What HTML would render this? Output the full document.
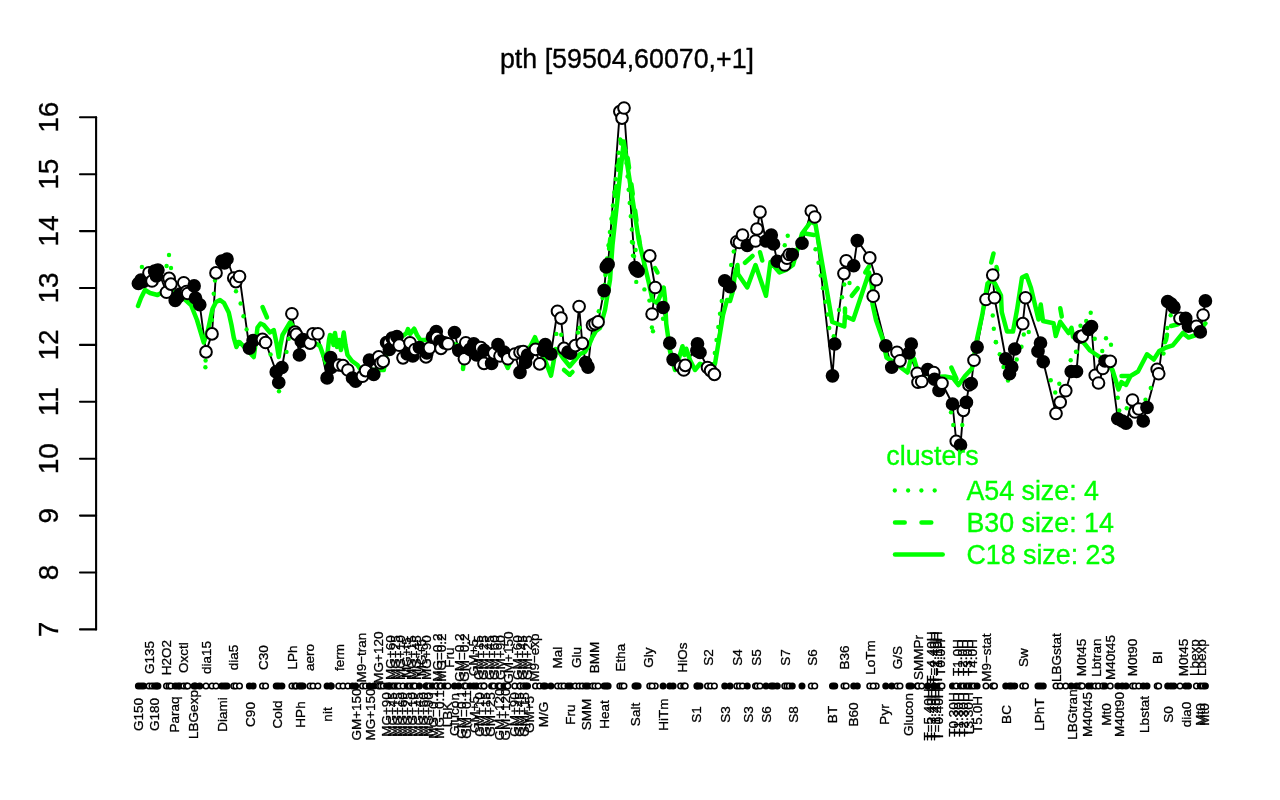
<!DOCTYPE html>
<html><head><meta charset="utf-8"><title>pth</title>
<style>html,body{margin:0;padding:0;background:#fff;}body{width:1280px;height:800px;overflow:hidden;}svg{display:block;will-change:transform;}text{font-family:"Liberation Sans",sans-serif;}</style></head><body>
<svg width="1280" height="800" viewBox="0 0 1280 800">
<rect width="1280" height="800" fill="#fff"/>
<text x="627" y="67.6" font-size="26.8" text-anchor="middle" fill="#000" stroke="#000" stroke-width="0.35">pth [59504,60070,+1]</text>
<path d="M96.1 117.25 V629.4" stroke="#000" stroke-width="2.1" fill="none" stroke-linecap="round"/>
<path d="M96.1 117.25 H80" stroke="#000" stroke-width="2.1" fill="none" stroke-linecap="round"/>
<text transform="translate(57.6 117.25) rotate(-90)" font-size="28" text-anchor="middle" fill="#000" stroke="#000" stroke-width="0.35">16</text>
<path d="M96.1 174.2 H80" stroke="#000" stroke-width="2.1" fill="none" stroke-linecap="round"/>
<text transform="translate(57.6 174.2) rotate(-90)" font-size="28" text-anchor="middle" fill="#000" stroke="#000" stroke-width="0.35">15</text>
<path d="M96.1 231.1 H80" stroke="#000" stroke-width="2.1" fill="none" stroke-linecap="round"/>
<text transform="translate(57.6 231.1) rotate(-90)" font-size="28" text-anchor="middle" fill="#000" stroke="#000" stroke-width="0.35">14</text>
<path d="M96.1 288.0 H80" stroke="#000" stroke-width="2.1" fill="none" stroke-linecap="round"/>
<text transform="translate(57.6 288.0) rotate(-90)" font-size="28" text-anchor="middle" fill="#000" stroke="#000" stroke-width="0.35">13</text>
<path d="M96.1 344.9 H80" stroke="#000" stroke-width="2.1" fill="none" stroke-linecap="round"/>
<text transform="translate(57.6 344.9) rotate(-90)" font-size="28" text-anchor="middle" fill="#000" stroke="#000" stroke-width="0.35">12</text>
<path d="M96.1 401.8 H80" stroke="#000" stroke-width="2.1" fill="none" stroke-linecap="round"/>
<text transform="translate(57.6 401.8) rotate(-90)" font-size="28" text-anchor="middle" fill="#000" stroke="#000" stroke-width="0.35">11</text>
<path d="M96.1 458.7 H80" stroke="#000" stroke-width="2.1" fill="none" stroke-linecap="round"/>
<text transform="translate(57.6 458.7) rotate(-90)" font-size="28" text-anchor="middle" fill="#000" stroke="#000" stroke-width="0.35">10</text>
<path d="M96.1 515.6 H80" stroke="#000" stroke-width="2.1" fill="none" stroke-linecap="round"/>
<text transform="translate(57.6 515.6) rotate(-90)" font-size="28" text-anchor="middle" fill="#000" stroke="#000" stroke-width="0.35">9</text>
<path d="M96.1 572.5 H80" stroke="#000" stroke-width="2.1" fill="none" stroke-linecap="round"/>
<text transform="translate(57.6 572.5) rotate(-90)" font-size="28" text-anchor="middle" fill="#000" stroke="#000" stroke-width="0.35">8</text>
<path d="M96.1 629.4 H80" stroke="#000" stroke-width="2.1" fill="none" stroke-linecap="round"/>
<text transform="translate(57.6 629.4) rotate(-90)" font-size="28" text-anchor="middle" fill="#000" stroke="#000" stroke-width="0.35">7</text>
<path d="M138.4 283.5 L141.0 280.0 L143.5 281.5 L149.0 272.75 L152.0 281.0 L154.6 271.0 L156.5 276.0 L157.9 270.0 L166.5 292.25 L169.1 278.4 L170.9 284.1 L175.25 300.4 L178.0 297.0 L180.0 294.0 L183.75 282.75 L186.5 291.5 L187.75 293.5 L194.1 285.9 L195.5 298.0 L199.75 304.75 L206.0 351.9 L212.0 333.9 L216.0 272.9 L221.8 261.0 L224.5 263.0 L227.0 259.0 L233.75 278.0 L235.9 281.6 L239.5 276.5 L249.4 348.1 L253.1 340.6 L262.5 339.4 L265.6 342.5 L276.25 371.9 L278.75 382.5 L281.9 367.5 L291.9 313.75 L295.0 332.0 L296.25 334.4 L299.4 355.0 L301.25 341.25 L303.0 339.5 L310.0 343.1 L313.0 333.75 L317.9 333.75 L327.1 377.9 L330.6 357.5 L331.25 367.5 L338.75 365.0 L343.0 365.6 L347.9 370.0 L352.5 378.0 L355.6 381.25 L362.5 376.25 L365.6 370.6 L369.4 360.0 L373.75 374.4 L378.75 356.9 L380.6 363.0 L383.2 361.4 L386.6 342.5 L389.0 343.0 L389.4 349.4 L392.2 338.1 L394.5 340.0 L396.9 336.7 L399.2 345.2 L403.0 357.8 L407.2 354.0 L410.0 342.8 L412.8 356.0 L415.0 349.5 L419.4 347.5 L426.0 356.9 L426.9 353.0 L429.5 348.0 L432.5 337.2 L436.25 331.6 L436.7 337.7 L440.0 341.0 L441.0 348.4 L444.7 342.8 L448.0 343.75 L454.5 332.5 L458.75 350.3 L464.4 358.75 L465.8 342.8 L470.0 349.4 L473.75 343.75 L476.6 355.0 L480.8 347.5 L484.0 350.3 L484.0 363.4 L491.6 363.4 L493.9 353.1 L498.0 344.7 L500.0 356.0 L504.0 352.0 L507.8 358.75 L514.8 354.0 L520.0 372.3 L520.0 352.2 L523.3 351.7 L525.6 362.5 L527.5 355.0 L535.5 349.4 L539.7 363.9 L543.4 350.3 L545.3 344.7 L550.9 354.0 L557.5 311.25 L561.0 318.1 L564.0 348.4 L568.0 352.0 L570.6 353.1 L575.3 345.6 L579.1 306.5 L582.3 343.3 L585.6 362.5 L588.0 367.2 L592.5 325.0 L595.0 323.75 L598.1 321.9 L604.1 290.6 L606.25 266.9 L608.1 264.4 L619.85 111.6 L622.0 118.1 L624.0 108.0 L635.0 267.5 L636.25 270.0 L638.1 271.25 L649.75 255.9 L655.25 287.5 L652.1 314.0 L663.1 307.5 L669.75 343.1 L673.1 359.6 L680.6 366.25 L683.75 370.0 L685.25 365.4 L697.5 343.75 L696.9 350.6 L700.0 352.5 L707.5 367.5 L710.6 370.6 L714.4 374.4 L724.75 280.75 L730.0 286.75 L736.8 241.75 L739.4 242.5 L742.5 235.0 L747.25 245.5 L755.5 241.0 L757.0 229.0 L760.0 212.0 L766.0 241.0 L771.25 235.0 L773.5 244.0 L777.25 261.25 L784.75 265.0 L787.0 258.25 L789.25 254.5 L792.25 254.5 L802.0 243.25 L811.3 211.0 L814.75 217.0 L832.5 375.8 L834.75 344.0 L843.95 273.55 L846.2 260.8 L853.7 265.75 L857.3 240.55 L869.75 257.95 L876.2 279.7 L873.2 296.2 L885.75 345.8 L891.75 367.25 L897.0 352.25 L900.0 360.8 L911.25 344.0 L909.0 353.0 L917.25 373.25 L918.0 382.25 L921.75 381.5 L927.75 369.5 L933.75 372.5 L934.5 379.25 L939.0 390.5 L942.0 383.25 L952.5 404.0 L956.25 441.25 L960.5 445.0 L963.4 410.3 L966.4 402.4 L969.0 385.0 L971.25 383.5 L974.0 360.25 L977.1 347.1 L986.0 299.5 L992.75 275.0 L994.5 297.75 L1005.75 358.75 L1009.5 373.75 L1011.75 367.0 L1014.75 349.0 L1022.75 323.7 L1025.5 297.75 L1040.5 343.0 L1038.0 351.25 L1043.25 361.75 L1056.0 413.5 L1060.2 402.25 L1065.75 390.7 L1071.25 371.5 L1076.5 371.5 L1079.5 337.0 L1080.7 336.6 L1082.3 336.1 L1088.5 329.5 L1091.5 326.5 L1095.25 375.25 L1098.5 383.0 L1102.75 368.5 L1105.0 361.0 L1110.25 361.3 L1117.75 418.75 L1122.25 421.0 L1126.0 423.25 L1132.5 400.0 L1135.0 412.0 L1138.75 409.0 L1143.25 421.0 L1147.0 407.5 L1157.2 369.25 L1158.7 373.75 L1167.7 301.5 L1171.0 303.75 L1173.9 307.1 L1180.0 318.4 L1185.7 318.4 L1188.5 326.25 L1196.4 326.25 L1200.3 331.9 L1203.1 315.0 L1205.4 300.9" stroke="#000" stroke-width="1.9" fill="none" stroke-linejoin="round"/>
<path d="M138.0 306.0 L141.0 298.0 L145.0 290.0 L150.0 293.0 L157.5 295.0 L163.0 292.0 L170.0 290.0 L180.0 295.0 L191.0 305.0 L197.0 320.0 L203.75 342.5 L208.0 330.0 L212.5 309.0 L216.0 302.0 L220.0 300.0 L224.0 303.0 L228.75 312.5 L231.5 325.0 L233.75 337.5 L236.5 347.0 L238.5 342.0 L240.0 342.5 L253.75 357.0 L256.0 340.0 L257.5 327.5 L260.5 323.5 L263.75 325.0 L270.0 332.5 L273.75 330.0 L276.5 343.0 L278.75 357.0 L280.5 345.0 L282.5 335.0 L290.0 322.5 L296.0 330.0 L305.0 340.0 L316.25 343.75 L320.0 346.0 L326.25 363.75 L329.0 340.0 L330.0 335.0 L332.0 336.0 L333.5 345.0 L335.0 333.0 L337.0 347.0 L339.0 340.0 L341.0 350.0 L343.75 332.5 L345.5 345.0 L347.5 355.0 L352.0 361.0 L357.5 365.0 L360.0 368.75 L370.0 370.0 L383.75 370.0 L388.0 345.0 L395.0 340.0 L400.0 338.0 L406.25 333.4 L408.0 329.0 L410.0 334.0 L414.2 328.75 L417.0 335.0 L420.3 340.0 L426.0 340.0 L440.0 340.0 L460.0 346.0 L480.0 350.0 L500.0 352.0 L505.0 362.0 L507.8 368.0 L511.0 360.0 L520.0 352.0 L530.0 347.0 L535.0 337.2 L538.0 345.0 L545.0 360.0 L551.0 375.6 L553.5 362.0 L555.6 349.0 L558.0 350.0 L563.0 358.0 L569.7 366.25 L575.0 360.0 L580.0 354.0 L585.0 352.0 L589.0 345.0 L592.0 338.0 L596.0 331.0 L600.0 328.0 L605.0 310.0 L610.0 280.0 L612.5 245.0 L623.75 141.6 L638.75 240.0 L643.75 261.25 L648.75 282.5 L652.5 300.0 L657.0 303.0 L663.75 287.5 L665.0 298.75 L666.25 323.75 L668.0 336.25 L670.0 351.25 L675.0 370.0 L679.0 358.0 L682.5 346.25 L684.4 355.0 L686.25 348.75 L690.0 360.0 L695.0 370.0 L700.0 363.75 L706.0 366.0 L715.0 363.75 L718.5 342.5 L723.0 315.0 L727.0 300.0 L730.0 301.0 L732.5 292.5 L735.25 272.5 L737.5 265.0 L738.0 274.0 L747.25 287.5 L755.5 265.0 L766.0 295.75 L770.5 262.0 L779.5 272.5 L786.0 270.0 L793.0 265.0 L802.0 233.5 L811.0 221.5 L815.5 224.5 L832.25 322.0 L844.25 326.5 L845.0 316.0 L853.25 319.75 L869.0 272.5 L872.0 286.0 L872.5 304.0 L876.0 320.0 L882.5 338.5 L886.5 357.5 L895.0 363.0 L901.5 368.0 L907.5 372.5 L911.5 356.0 L914.2 359.0 L917.0 369.0 L925.0 373.0 L935.0 377.0 L945.0 376.5 L953.0 378.0 L958.5 385.0 L965.0 376.0 L972.0 368.5 L977.0 339.0 L982.25 315.0 L987.5 283.5 L991.0 280.0 L995.0 283.5 L1001.0 295.5 L1001.75 312.0 L1007.0 331.5 L1013.0 331.5 L1017.0 310.0 L1022.0 277.5 L1026.5 275.25 L1031.0 288.0 L1038.5 319.5 L1040.75 304.5 L1043.0 321.0 L1053.5 323.25 L1055.75 336.0 L1060.25 321.75 L1068.5 333.0 L1071.5 327.75 L1073.0 337.0 L1077.5 339.0 L1084.0 343.0 L1090.0 350.5 L1099.0 356.5 L1106.0 362.0 L1112.5 370.0 L1118.5 389.5 L1121.5 382.0 L1126.0 385.0 L1130.5 376.0 L1138.0 371.5 L1147.0 354.25 L1153.75 359.5 L1159.25 351.0 L1166.0 347.5 L1172.75 345.4 L1182.9 333.0 L1188.5 337.5 L1195.25 335.25 L1205.4 323.4" stroke="#00ff00" stroke-width="4.5" fill="none" stroke-linejoin="round" stroke-linecap="round"/>
<path d="M262.5 307.0 L267.0 317.5" stroke="#00ff00" stroke-width="4.5" fill="none" stroke-linecap="round"/>
<path d="M564.0 370.0 L569.7 374.7" stroke="#00ff00" stroke-width="4.5" fill="none" stroke-linecap="round"/>
<path d="M569.7 374.7 L572.5 372.0" stroke="#00ff00" stroke-width="4.5" fill="none" stroke-linecap="round"/>
<path d="M655.0 268.0 L657.5 272.5" stroke="#00ff00" stroke-width="4.5" fill="none" stroke-linecap="round"/>
<path d="M745.0 262.75 L752.5 256.0" stroke="#00ff00" stroke-width="4.5" fill="none" stroke-linecap="round"/>
<path d="M760.0 252.25 L762.25 260.5" stroke="#00ff00" stroke-width="4.5" fill="none" stroke-linecap="round"/>
<path d="M805.0 233.5 L814.0 235.0" stroke="#00ff00" stroke-width="4.5" fill="none" stroke-linecap="round"/>
<path d="M851.75 295.75 L857.75 288.25" stroke="#00ff00" stroke-width="4.5" fill="none" stroke-linecap="round"/>
<path d="M865.25 272.5 L869.0 266.5" stroke="#00ff00" stroke-width="4.5" fill="none" stroke-linecap="round"/>
<path d="M845.0 308.5 L845.0 313.0" stroke="#00ff00" stroke-width="4.5" fill="none" stroke-linecap="round"/>
<path d="M993.5 253.5 L991.25 262.5" stroke="#00ff00" stroke-width="4.5" fill="none" stroke-linecap="round"/>
<path d="M996.5 267.0 L997.25 270.0" stroke="#00ff00" stroke-width="4.5" fill="none" stroke-linecap="round"/>
<path d="M1060.25 308.25 L1061.75 316.5" stroke="#00ff00" stroke-width="4.5" fill="none" stroke-linecap="round"/>
<path d="M1121.5 376.0 L1129.0 376.0" stroke="#00ff00" stroke-width="4.5" fill="none" stroke-linecap="round"/>
<path d="M1171.0 326.0 L1178.0 324.2" stroke="#00ff00" stroke-width="4.5" fill="none" stroke-linecap="round"/>
<path d="M1167.0 334.7 L1166.0 340.0" stroke="#00ff00" stroke-width="4.5" fill="none" stroke-linecap="round"/>
<path d="M463.5 364.0 L463.0 369.0" stroke="#00ff00" stroke-width="4.5" fill="none" stroke-linecap="round"/>
<path d="M951.3 367.5 L956.5 379.0" stroke="#00ff00" stroke-width="4.5" fill="none" stroke-linecap="round"/>
<g fill="#00ff00"><circle cx="141.9" cy="266.9" r="2.2"/><circle cx="169.0" cy="255.0" r="2.2"/><circle cx="166.6" cy="266.0" r="2.2"/><circle cx="171.0" cy="268.0" r="2.2"/><circle cx="215.0" cy="280.6" r="2.2"/><circle cx="213.75" cy="293.75" r="2.2"/><circle cx="212.0" cy="320.0" r="2.2"/><circle cx="236.0" cy="291.25" r="2.2"/><circle cx="240.6" cy="303.5" r="2.2"/><circle cx="243.5" cy="316.25" r="2.2"/><circle cx="246.6" cy="329.4" r="2.2"/><circle cx="205.6" cy="360.6" r="2.2"/><circle cx="205.4" cy="367.25" r="2.2"/><circle cx="270.6" cy="354.4" r="2.2"/><circle cx="279.0" cy="391.25" r="2.2"/><circle cx="286.5" cy="351.9" r="2.2"/><circle cx="288.75" cy="338.75" r="2.2"/><circle cx="556.3" cy="333.9" r="2.2"/><circle cx="561.25" cy="334.8" r="2.2"/><circle cx="579.5" cy="327.8" r="2.2"/><circle cx="578.0" cy="332.5" r="2.2"/><circle cx="598.75" cy="311.25" r="2.2"/><circle cx="602.5" cy="298.0" r="2.2"/><circle cx="631.9" cy="241.9" r="2.2"/><circle cx="635.6" cy="250.0" r="2.2"/><circle cx="633.0" cy="255.6" r="2.2"/><circle cx="636.25" cy="281.9" r="2.2"/><circle cx="644.4" cy="289.4" r="2.2"/><circle cx="649.4" cy="300.6" r="2.2"/><circle cx="651.9" cy="327.5" r="2.2"/><circle cx="653.0" cy="331.25" r="2.2"/><circle cx="663.0" cy="318.75" r="2.2"/><circle cx="733.75" cy="251.5" r="2.2"/><circle cx="731.2" cy="265.0" r="2.2"/><circle cx="721.75" cy="301.0" r="2.2"/><circle cx="787.75" cy="235.75" r="2.2"/><circle cx="784.75" cy="245.2" r="2.2"/><circle cx="815.5" cy="249.25" r="2.2"/><circle cx="818.5" cy="262.75" r="2.2"/><circle cx="820.75" cy="275.5" r="2.2"/><circle cx="823.0" cy="288.25" r="2.2"/><circle cx="825.25" cy="301.75" r="2.2"/><circle cx="827.75" cy="314.5" r="2.2"/><circle cx="829.25" cy="328.0" r="2.2"/><circle cx="833.75" cy="336.25" r="2.2"/><circle cx="844.25" cy="284.5" r="2.2"/><circle cx="849.5" cy="283.0" r="2.2"/><circle cx="842.0" cy="297.25" r="2.2"/><circle cx="839.0" cy="310.0" r="2.2"/><circle cx="951.0" cy="412.25" r="2.2"/><circle cx="953.25" cy="425.0" r="2.2"/><circle cx="962.25" cy="425.0" r="2.2"/><circle cx="996.0" cy="342.25" r="2.2"/><circle cx="999.75" cy="354.25" r="2.2"/><circle cx="1003.5" cy="367.0" r="2.2"/><circle cx="1008.0" cy="380.5" r="2.2"/><circle cx="1016.7" cy="359.5" r="2.2"/><circle cx="1021.5" cy="346.75" r="2.2"/><circle cx="1050.75" cy="380.2" r="2.2"/><circle cx="1055.25" cy="392.5" r="2.2"/><circle cx="1059.3" cy="383.8" r="2.2"/><circle cx="1070.7" cy="360.25" r="2.2"/><circle cx="1076.7" cy="352.0" r="2.2"/><circle cx="992.75" cy="315.5" r="2.2"/><circle cx="993.8" cy="328.8" r="2.2"/><circle cx="995.75" cy="342.0" r="2.2"/><circle cx="1023.8" cy="334.5" r="2.2"/><circle cx="1028.75" cy="332.0" r="2.2"/><circle cx="1090.7" cy="312.75" r="2.2"/><circle cx="1086.2" cy="321.0" r="2.2"/><circle cx="1080.5" cy="325.8" r="2.2"/><circle cx="1094.75" cy="338.7" r="2.2"/><circle cx="1106.0" cy="338.25" r="2.2"/><circle cx="1102.25" cy="351.0" r="2.2"/><circle cx="1076.0" cy="351.75" r="2.2"/><circle cx="1111.0" cy="344.8" r="2.2"/><circle cx="1117.75" cy="397.75" r="2.2"/><circle cx="1119.25" cy="410.5" r="2.2"/><circle cx="1126.75" cy="408.25" r="2.2"/><circle cx="1145.5" cy="399.7" r="2.2"/><circle cx="1150.75" cy="388.0" r="2.2"/><circle cx="1170.7" cy="315.25" r="2.2"/><circle cx="1167.25" cy="328.0" r="2.2"/><circle cx="1165.0" cy="342.25" r="2.2"/><circle cx="1163.5" cy="353.5" r="2.2"/><circle cx="720.0" cy="313.75" r="2.2"/><circle cx="718.3" cy="327.0" r="2.2"/><circle cx="716.5" cy="340.0" r="2.2"/><circle cx="714.8" cy="353.0" r="2.2"/></g>
<path d="M605.5 275 L609 250 L621.3 141 " stroke="#00ff00" stroke-width="4.5" fill="none" stroke-linecap="round" stroke-dasharray="10 16.5"/>
<path d="M604.5 285 L608 250 L620.3 139 M625.5 150 L634.5 262" stroke="#00ff00" stroke-width="4.5" fill="none" stroke-linecap="round" stroke-dasharray="0.01 13.3"/>
<path d="M626.5 150 L640 245" stroke="#00ff00" stroke-width="4.5" fill="none" stroke-linecap="round" stroke-dasharray="10 16.5" stroke-dashoffset="-8"/>
<g stroke="#000" stroke-width="2">
<circle cx="138.4" cy="283.5" r="5.85" fill="#000"/>
<circle cx="141.0" cy="280.0" r="5.85" fill="#000"/>
<circle cx="143.5" cy="281.5" r="5.85" fill="#000"/>
<circle cx="149.0" cy="272.75" r="5.85" fill="#fff"/>
<circle cx="152.0" cy="281.0" r="5.85" fill="#fff"/>
<circle cx="154.6" cy="271.0" r="5.85" fill="#000"/>
<circle cx="156.5" cy="276.0" r="5.85" fill="#000"/>
<circle cx="157.9" cy="270.0" r="5.85" fill="#000"/>
<circle cx="166.5" cy="292.25" r="5.85" fill="#fff"/>
<circle cx="169.1" cy="278.4" r="5.85" fill="#fff"/>
<circle cx="170.9" cy="284.1" r="5.85" fill="#fff"/>
<circle cx="175.25" cy="300.4" r="5.85" fill="#000"/>
<circle cx="178.0" cy="297.0" r="5.85" fill="#000"/>
<circle cx="180.0" cy="294.0" r="5.85" fill="#000"/>
<circle cx="183.75" cy="282.75" r="5.85" fill="#fff"/>
<circle cx="186.5" cy="291.5" r="5.85" fill="#fff"/>
<circle cx="187.75" cy="293.5" r="5.85" fill="#fff"/>
<circle cx="194.1" cy="285.9" r="5.85" fill="#000"/>
<circle cx="195.5" cy="298.0" r="5.85" fill="#000"/>
<circle cx="199.75" cy="304.75" r="5.85" fill="#000"/>
<circle cx="206.0" cy="351.9" r="5.85" fill="#fff"/>
<circle cx="212.0" cy="333.9" r="5.85" fill="#fff"/>
<circle cx="216.0" cy="272.9" r="5.85" fill="#fff"/>
<circle cx="221.8" cy="261.0" r="5.85" fill="#000"/>
<circle cx="224.5" cy="263.0" r="5.85" fill="#000"/>
<circle cx="227.0" cy="259.0" r="5.85" fill="#000"/>
<circle cx="233.75" cy="278.0" r="5.85" fill="#fff"/>
<circle cx="235.9" cy="281.6" r="5.85" fill="#fff"/>
<circle cx="239.5" cy="276.5" r="5.85" fill="#fff"/>
<circle cx="249.4" cy="348.1" r="5.85" fill="#000"/>
<circle cx="253.1" cy="340.6" r="5.85" fill="#000"/>
<circle cx="262.5" cy="339.4" r="5.85" fill="#fff"/>
<circle cx="265.6" cy="342.5" r="5.85" fill="#fff"/>
<circle cx="276.25" cy="371.9" r="5.85" fill="#000"/>
<circle cx="278.75" cy="382.5" r="5.85" fill="#000"/>
<circle cx="281.9" cy="367.5" r="5.85" fill="#000"/>
<circle cx="291.9" cy="313.75" r="5.85" fill="#fff"/>
<circle cx="295.0" cy="332.0" r="5.85" fill="#fff"/>
<circle cx="296.25" cy="334.4" r="5.85" fill="#fff"/>
<circle cx="299.4" cy="355.0" r="5.85" fill="#000"/>
<circle cx="301.25" cy="341.25" r="5.85" fill="#000"/>
<circle cx="303.0" cy="339.5" r="5.85" fill="#000"/>
<circle cx="310.0" cy="343.1" r="5.85" fill="#fff"/>
<circle cx="313.0" cy="333.75" r="5.85" fill="#fff"/>
<circle cx="317.9" cy="333.75" r="5.85" fill="#fff"/>
<circle cx="327.1" cy="377.9" r="5.85" fill="#000"/>
<circle cx="330.6" cy="357.5" r="5.85" fill="#000"/>
<circle cx="331.25" cy="367.5" r="5.85" fill="#000"/>
<circle cx="338.75" cy="365.0" r="5.85" fill="#fff"/>
<circle cx="343.0" cy="365.6" r="5.85" fill="#fff"/>
<circle cx="347.9" cy="370.0" r="5.85" fill="#fff"/>
<circle cx="352.5" cy="378.0" r="5.85" fill="#000"/>
<circle cx="355.6" cy="381.25" r="5.85" fill="#000"/>
<circle cx="362.5" cy="376.25" r="5.85" fill="#fff"/>
<circle cx="365.6" cy="370.6" r="5.85" fill="#fff"/>
<circle cx="369.4" cy="360.0" r="5.85" fill="#000"/>
<circle cx="373.75" cy="374.4" r="5.85" fill="#000"/>
<circle cx="378.75" cy="356.9" r="5.85" fill="#fff"/>
<circle cx="380.6" cy="363.0" r="5.85" fill="#fff"/>
<circle cx="383.2" cy="361.4" r="5.85" fill="#fff"/>
<circle cx="386.6" cy="342.5" r="5.85" fill="#000"/>
<circle cx="389.0" cy="343.0" r="5.85" fill="#fff"/>
<circle cx="389.4" cy="349.4" r="5.85" fill="#000"/>
<circle cx="392.2" cy="338.1" r="5.85" fill="#000"/>
<circle cx="394.5" cy="340.0" r="5.85" fill="#fff"/>
<circle cx="396.9" cy="336.7" r="5.85" fill="#000"/>
<circle cx="399.2" cy="345.2" r="5.85" fill="#fff"/>
<circle cx="403.0" cy="357.8" r="5.85" fill="#fff"/>
<circle cx="407.2" cy="354.0" r="5.85" fill="#000"/>
<circle cx="410.0" cy="342.8" r="5.85" fill="#fff"/>
<circle cx="412.8" cy="356.0" r="5.85" fill="#000"/>
<circle cx="415.0" cy="349.5" r="5.85" fill="#fff"/>
<circle cx="419.4" cy="347.5" r="5.85" fill="#000"/>
<circle cx="426.0" cy="356.9" r="5.85" fill="#fff"/>
<circle cx="426.9" cy="353.0" r="5.85" fill="#000"/>
<circle cx="429.5" cy="348.0" r="5.85" fill="#fff"/>
<circle cx="432.5" cy="337.2" r="5.85" fill="#000"/>
<circle cx="436.25" cy="331.6" r="5.85" fill="#000"/>
<circle cx="436.7" cy="337.7" r="5.85" fill="#fff"/>
<circle cx="440.0" cy="341.0" r="5.85" fill="#000"/>
<circle cx="441.0" cy="348.4" r="5.85" fill="#fff"/>
<circle cx="444.7" cy="342.8" r="5.85" fill="#000"/>
<circle cx="448.0" cy="343.75" r="5.85" fill="#fff"/>
<circle cx="454.5" cy="332.5" r="5.85" fill="#000"/>
<circle cx="458.75" cy="350.3" r="5.85" fill="#000"/>
<circle cx="464.4" cy="358.75" r="5.85" fill="#fff"/>
<circle cx="465.8" cy="342.8" r="5.85" fill="#fff"/>
<circle cx="470.0" cy="349.4" r="5.85" fill="#000"/>
<circle cx="473.75" cy="343.75" r="5.85" fill="#000"/>
<circle cx="476.6" cy="355.0" r="5.85" fill="#000"/>
<circle cx="480.8" cy="347.5" r="5.85" fill="#fff"/>
<circle cx="484.0" cy="350.3" r="5.85" fill="#000"/>
<circle cx="484.0" cy="363.4" r="5.85" fill="#fff"/>
<circle cx="491.6" cy="363.4" r="5.85" fill="#000"/>
<circle cx="493.9" cy="353.1" r="5.85" fill="#fff"/>
<circle cx="498.0" cy="344.7" r="5.85" fill="#000"/>
<circle cx="500.0" cy="356.0" r="5.85" fill="#fff"/>
<circle cx="504.0" cy="352.0" r="5.85" fill="#000"/>
<circle cx="507.8" cy="358.75" r="5.85" fill="#fff"/>
<circle cx="514.8" cy="354.0" r="5.85" fill="#fff"/>
<circle cx="520.0" cy="372.3" r="5.85" fill="#000"/>
<circle cx="520.0" cy="352.2" r="5.85" fill="#fff"/>
<circle cx="523.3" cy="351.7" r="5.85" fill="#fff"/>
<circle cx="525.6" cy="362.5" r="5.85" fill="#000"/>
<circle cx="527.5" cy="355.0" r="5.85" fill="#000"/>
<circle cx="535.5" cy="349.4" r="5.85" fill="#fff"/>
<circle cx="539.7" cy="363.9" r="5.85" fill="#fff"/>
<circle cx="543.4" cy="350.3" r="5.85" fill="#000"/>
<circle cx="545.3" cy="344.7" r="5.85" fill="#000"/>
<circle cx="550.9" cy="354.0" r="5.85" fill="#000"/>
<circle cx="557.5" cy="311.25" r="5.85" fill="#fff"/>
<circle cx="561.0" cy="318.1" r="5.85" fill="#fff"/>
<circle cx="564.0" cy="348.4" r="5.85" fill="#fff"/>
<circle cx="568.0" cy="352.0" r="5.85" fill="#000"/>
<circle cx="570.6" cy="353.1" r="5.85" fill="#000"/>
<circle cx="575.3" cy="345.6" r="5.85" fill="#fff"/>
<circle cx="579.1" cy="306.5" r="5.85" fill="#fff"/>
<circle cx="582.3" cy="343.3" r="5.85" fill="#fff"/>
<circle cx="585.6" cy="362.5" r="5.85" fill="#000"/>
<circle cx="588.0" cy="367.2" r="5.85" fill="#000"/>
<circle cx="592.5" cy="325.0" r="5.85" fill="#fff"/>
<circle cx="595.0" cy="323.75" r="5.85" fill="#fff"/>
<circle cx="598.1" cy="321.9" r="5.85" fill="#fff"/>
<circle cx="604.1" cy="290.6" r="5.85" fill="#000"/>
<circle cx="606.25" cy="266.9" r="5.85" fill="#000"/>
<circle cx="608.1" cy="264.4" r="5.85" fill="#000"/>
<circle cx="619.85" cy="111.6" r="5.85" fill="#fff"/>
<circle cx="622.0" cy="118.1" r="5.85" fill="#fff"/>
<circle cx="624.0" cy="108.0" r="5.85" fill="#fff"/>
<circle cx="635.0" cy="267.5" r="5.85" fill="#000"/>
<circle cx="636.25" cy="270.0" r="5.85" fill="#000"/>
<circle cx="638.1" cy="271.25" r="5.85" fill="#000"/>
<circle cx="649.75" cy="255.9" r="5.85" fill="#fff"/>
<circle cx="655.25" cy="287.5" r="5.85" fill="#fff"/>
<circle cx="652.1" cy="314.0" r="5.85" fill="#fff"/>
<circle cx="663.1" cy="307.5" r="5.85" fill="#000"/>
<circle cx="669.75" cy="343.1" r="5.85" fill="#000"/>
<circle cx="673.1" cy="359.6" r="5.85" fill="#000"/>
<circle cx="680.6" cy="366.25" r="5.85" fill="#fff"/>
<circle cx="683.75" cy="370.0" r="5.85" fill="#fff"/>
<circle cx="685.25" cy="365.4" r="5.85" fill="#fff"/>
<circle cx="697.5" cy="343.75" r="5.85" fill="#000"/>
<circle cx="696.9" cy="350.6" r="5.85" fill="#000"/>
<circle cx="700.0" cy="352.5" r="5.85" fill="#000"/>
<circle cx="707.5" cy="367.5" r="5.85" fill="#fff"/>
<circle cx="710.6" cy="370.6" r="5.85" fill="#fff"/>
<circle cx="714.4" cy="374.4" r="5.85" fill="#fff"/>
<circle cx="724.75" cy="280.75" r="5.85" fill="#000"/>
<circle cx="730.0" cy="286.75" r="5.85" fill="#000"/>
<circle cx="736.8" cy="241.75" r="5.85" fill="#fff"/>
<circle cx="739.4" cy="242.5" r="5.85" fill="#fff"/>
<circle cx="742.5" cy="235.0" r="5.85" fill="#fff"/>
<circle cx="747.25" cy="245.5" r="5.85" fill="#000"/>
<circle cx="755.5" cy="241.0" r="5.85" fill="#fff"/>
<circle cx="757.0" cy="229.0" r="5.85" fill="#fff"/>
<circle cx="760.0" cy="212.0" r="5.85" fill="#fff"/>
<circle cx="766.0" cy="241.0" r="5.85" fill="#000"/>
<circle cx="771.25" cy="235.0" r="5.85" fill="#000"/>
<circle cx="773.5" cy="244.0" r="5.85" fill="#000"/>
<circle cx="777.25" cy="261.25" r="5.85" fill="#000"/>
<circle cx="784.75" cy="265.0" r="5.85" fill="#fff"/>
<circle cx="787.0" cy="258.25" r="5.85" fill="#fff"/>
<circle cx="789.25" cy="254.5" r="5.85" fill="#fff"/>
<circle cx="792.25" cy="254.5" r="5.85" fill="#000"/>
<circle cx="802.0" cy="243.25" r="5.85" fill="#000"/>
<circle cx="811.3" cy="211.0" r="5.85" fill="#fff"/>
<circle cx="814.75" cy="217.0" r="5.85" fill="#fff"/>
<circle cx="832.5" cy="375.8" r="5.85" fill="#000"/>
<circle cx="834.75" cy="344.0" r="5.85" fill="#000"/>
<circle cx="843.95" cy="273.55" r="5.85" fill="#fff"/>
<circle cx="846.2" cy="260.8" r="5.85" fill="#fff"/>
<circle cx="853.7" cy="265.75" r="5.85" fill="#000"/>
<circle cx="857.3" cy="240.55" r="5.85" fill="#000"/>
<circle cx="869.75" cy="257.95" r="5.85" fill="#fff"/>
<circle cx="876.2" cy="279.7" r="5.85" fill="#fff"/>
<circle cx="873.2" cy="296.2" r="5.85" fill="#fff"/>
<circle cx="885.75" cy="345.8" r="5.85" fill="#000"/>
<circle cx="891.75" cy="367.25" r="5.85" fill="#000"/>
<circle cx="897.0" cy="352.25" r="5.85" fill="#fff"/>
<circle cx="900.0" cy="360.8" r="5.85" fill="#fff"/>
<circle cx="911.25" cy="344.0" r="5.85" fill="#000"/>
<circle cx="909.0" cy="353.0" r="5.85" fill="#000"/>
<circle cx="917.25" cy="373.25" r="5.85" fill="#fff"/>
<circle cx="918.0" cy="382.25" r="5.85" fill="#fff"/>
<circle cx="921.75" cy="381.5" r="5.85" fill="#fff"/>
<circle cx="927.75" cy="369.5" r="5.85" fill="#000"/>
<circle cx="933.75" cy="372.5" r="5.85" fill="#fff"/>
<circle cx="934.5" cy="379.25" r="5.85" fill="#000"/>
<circle cx="939.0" cy="390.5" r="5.85" fill="#000"/>
<circle cx="942.0" cy="383.25" r="5.85" fill="#fff"/>
<circle cx="952.5" cy="404.0" r="5.85" fill="#000"/>
<circle cx="956.25" cy="441.25" r="5.85" fill="#fff"/>
<circle cx="960.5" cy="445.0" r="5.85" fill="#000"/>
<circle cx="963.4" cy="410.3" r="5.85" fill="#fff"/>
<circle cx="966.4" cy="402.4" r="5.85" fill="#000"/>
<circle cx="969.0" cy="385.0" r="5.85" fill="#fff"/>
<circle cx="971.25" cy="383.5" r="5.85" fill="#000"/>
<circle cx="974.0" cy="360.25" r="5.85" fill="#fff"/>
<circle cx="977.1" cy="347.1" r="5.85" fill="#000"/>
<circle cx="986.0" cy="299.5" r="5.85" fill="#fff"/>
<circle cx="992.75" cy="275.0" r="5.85" fill="#fff"/>
<circle cx="994.5" cy="297.75" r="5.85" fill="#fff"/>
<circle cx="1005.75" cy="358.75" r="5.85" fill="#000"/>
<circle cx="1009.5" cy="373.75" r="5.85" fill="#000"/>
<circle cx="1011.75" cy="367.0" r="5.85" fill="#000"/>
<circle cx="1014.75" cy="349.0" r="5.85" fill="#000"/>
<circle cx="1022.75" cy="323.7" r="5.85" fill="#fff"/>
<circle cx="1025.5" cy="297.75" r="5.85" fill="#fff"/>
<circle cx="1040.5" cy="343.0" r="5.85" fill="#000"/>
<circle cx="1038.0" cy="351.25" r="5.85" fill="#000"/>
<circle cx="1043.25" cy="361.75" r="5.85" fill="#000"/>
<circle cx="1056.0" cy="413.5" r="5.85" fill="#fff"/>
<circle cx="1060.2" cy="402.25" r="5.85" fill="#fff"/>
<circle cx="1065.75" cy="390.7" r="5.85" fill="#fff"/>
<circle cx="1071.25" cy="371.5" r="5.85" fill="#000"/>
<circle cx="1076.5" cy="371.5" r="5.85" fill="#000"/>
<circle cx="1079.5" cy="337.0" r="5.85" fill="#fff"/>
<circle cx="1080.7" cy="336.6" r="5.85" fill="#fff"/>
<circle cx="1082.3" cy="336.1" r="5.85" fill="#fff"/>
<circle cx="1088.5" cy="329.5" r="5.85" fill="#000"/>
<circle cx="1091.5" cy="326.5" r="5.85" fill="#000"/>
<circle cx="1095.25" cy="375.25" r="5.85" fill="#fff"/>
<circle cx="1098.5" cy="383.0" r="5.85" fill="#fff"/>
<circle cx="1102.75" cy="368.5" r="5.85" fill="#fff"/>
<circle cx="1105.0" cy="361.0" r="5.85" fill="#000"/>
<circle cx="1110.25" cy="361.3" r="5.85" fill="#fff"/>
<circle cx="1117.75" cy="418.75" r="5.85" fill="#000"/>
<circle cx="1122.25" cy="421.0" r="5.85" fill="#000"/>
<circle cx="1126.0" cy="423.25" r="5.85" fill="#000"/>
<circle cx="1132.5" cy="400.0" r="5.85" fill="#fff"/>
<circle cx="1135.0" cy="412.0" r="5.85" fill="#fff"/>
<circle cx="1138.75" cy="409.0" r="5.85" fill="#fff"/>
<circle cx="1143.25" cy="421.0" r="5.85" fill="#000"/>
<circle cx="1147.0" cy="407.5" r="5.85" fill="#000"/>
<circle cx="1157.2" cy="369.25" r="5.85" fill="#fff"/>
<circle cx="1158.7" cy="373.75" r="5.85" fill="#fff"/>
<circle cx="1167.7" cy="301.5" r="5.85" fill="#000"/>
<circle cx="1171.0" cy="303.75" r="5.85" fill="#000"/>
<circle cx="1173.9" cy="307.1" r="5.85" fill="#000"/>
<circle cx="1180.0" cy="318.4" r="5.85" fill="#fff"/>
<circle cx="1185.7" cy="318.4" r="5.85" fill="#000"/>
<circle cx="1188.5" cy="326.25" r="5.85" fill="#000"/>
<circle cx="1196.4" cy="326.25" r="5.85" fill="#fff"/>
<circle cx="1200.3" cy="331.9" r="5.85" fill="#000"/>
<circle cx="1203.1" cy="315.0" r="5.85" fill="#fff"/>
<circle cx="1205.4" cy="300.9" r="5.85" fill="#000"/>
</g>
<g stroke="#000" stroke-width="1.55">
<circle cx="138.4" cy="686" r="2.75" fill="#000"/>
<circle cx="141.0" cy="686" r="2.75" fill="#000"/>
<circle cx="143.5" cy="686" r="2.75" fill="#000"/>
<circle cx="149.0" cy="686" r="2.75" fill="#fff"/>
<circle cx="152.0" cy="686" r="2.75" fill="#fff"/>
<circle cx="154.6" cy="686" r="2.75" fill="#000"/>
<circle cx="156.5" cy="686" r="2.75" fill="#000"/>
<circle cx="157.9" cy="686" r="2.75" fill="#000"/>
<circle cx="166.5" cy="686" r="2.75" fill="#fff"/>
<circle cx="169.1" cy="686" r="2.75" fill="#fff"/>
<circle cx="170.9" cy="686" r="2.75" fill="#fff"/>
<circle cx="175.25" cy="686" r="2.75" fill="#000"/>
<circle cx="178.0" cy="686" r="2.75" fill="#000"/>
<circle cx="180.0" cy="686" r="2.75" fill="#000"/>
<circle cx="183.75" cy="686" r="2.75" fill="#fff"/>
<circle cx="186.5" cy="686" r="2.75" fill="#fff"/>
<circle cx="187.75" cy="686" r="2.75" fill="#fff"/>
<circle cx="194.1" cy="686" r="2.75" fill="#000"/>
<circle cx="195.5" cy="686" r="2.75" fill="#000"/>
<circle cx="199.75" cy="686" r="2.75" fill="#000"/>
<circle cx="206.0" cy="686" r="2.75" fill="#fff"/>
<circle cx="212.0" cy="686" r="2.75" fill="#fff"/>
<circle cx="216.0" cy="686" r="2.75" fill="#fff"/>
<circle cx="221.8" cy="686" r="2.75" fill="#000"/>
<circle cx="224.5" cy="686" r="2.75" fill="#000"/>
<circle cx="227.0" cy="686" r="2.75" fill="#000"/>
<circle cx="233.75" cy="686" r="2.75" fill="#fff"/>
<circle cx="235.9" cy="686" r="2.75" fill="#fff"/>
<circle cx="239.5" cy="686" r="2.75" fill="#fff"/>
<circle cx="249.4" cy="686" r="2.75" fill="#000"/>
<circle cx="253.1" cy="686" r="2.75" fill="#000"/>
<circle cx="262.5" cy="686" r="2.75" fill="#fff"/>
<circle cx="265.6" cy="686" r="2.75" fill="#fff"/>
<circle cx="276.25" cy="686" r="2.75" fill="#000"/>
<circle cx="278.75" cy="686" r="2.75" fill="#000"/>
<circle cx="281.9" cy="686" r="2.75" fill="#000"/>
<circle cx="291.9" cy="686" r="2.75" fill="#fff"/>
<circle cx="295.0" cy="686" r="2.75" fill="#fff"/>
<circle cx="296.25" cy="686" r="2.75" fill="#fff"/>
<circle cx="299.4" cy="686" r="2.75" fill="#000"/>
<circle cx="301.25" cy="686" r="2.75" fill="#000"/>
<circle cx="303.0" cy="686" r="2.75" fill="#000"/>
<circle cx="310.0" cy="686" r="2.75" fill="#fff"/>
<circle cx="313.0" cy="686" r="2.75" fill="#fff"/>
<circle cx="317.9" cy="686" r="2.75" fill="#fff"/>
<circle cx="327.1" cy="686" r="2.75" fill="#000"/>
<circle cx="330.6" cy="686" r="2.75" fill="#000"/>
<circle cx="331.25" cy="686" r="2.75" fill="#000"/>
<circle cx="338.75" cy="686" r="2.75" fill="#fff"/>
<circle cx="343.0" cy="686" r="2.75" fill="#fff"/>
<circle cx="347.9" cy="686" r="2.75" fill="#fff"/>
<circle cx="352.5" cy="686" r="2.75" fill="#000"/>
<circle cx="355.6" cy="686" r="2.75" fill="#000"/>
<circle cx="362.5" cy="686" r="2.75" fill="#fff"/>
<circle cx="365.6" cy="686" r="2.75" fill="#fff"/>
<circle cx="369.4" cy="686" r="2.75" fill="#000"/>
<circle cx="373.75" cy="686" r="2.75" fill="#000"/>
<circle cx="378.75" cy="686" r="2.75" fill="#fff"/>
<circle cx="380.6" cy="686" r="2.75" fill="#fff"/>
<circle cx="383.2" cy="686" r="2.75" fill="#fff"/>
<circle cx="386.6" cy="686" r="2.75" fill="#000"/>
<circle cx="389.0" cy="686" r="2.75" fill="#fff"/>
<circle cx="389.4" cy="686" r="2.75" fill="#000"/>
<circle cx="392.2" cy="686" r="2.75" fill="#000"/>
<circle cx="394.5" cy="686" r="2.75" fill="#fff"/>
<circle cx="396.9" cy="686" r="2.75" fill="#000"/>
<circle cx="399.2" cy="686" r="2.75" fill="#fff"/>
<circle cx="403.0" cy="686" r="2.75" fill="#fff"/>
<circle cx="407.2" cy="686" r="2.75" fill="#000"/>
<circle cx="410.0" cy="686" r="2.75" fill="#fff"/>
<circle cx="412.8" cy="686" r="2.75" fill="#000"/>
<circle cx="415.0" cy="686" r="2.75" fill="#fff"/>
<circle cx="419.4" cy="686" r="2.75" fill="#000"/>
<circle cx="426.0" cy="686" r="2.75" fill="#fff"/>
<circle cx="426.9" cy="686" r="2.75" fill="#000"/>
<circle cx="429.5" cy="686" r="2.75" fill="#fff"/>
<circle cx="432.5" cy="686" r="2.75" fill="#000"/>
<circle cx="436.25" cy="686" r="2.75" fill="#000"/>
<circle cx="436.7" cy="686" r="2.75" fill="#fff"/>
<circle cx="440.0" cy="686" r="2.75" fill="#000"/>
<circle cx="441.0" cy="686" r="2.75" fill="#fff"/>
<circle cx="444.7" cy="686" r="2.75" fill="#000"/>
<circle cx="448.0" cy="686" r="2.75" fill="#fff"/>
<circle cx="454.5" cy="686" r="2.75" fill="#000"/>
<circle cx="458.75" cy="686" r="2.75" fill="#000"/>
<circle cx="464.4" cy="686" r="2.75" fill="#fff"/>
<circle cx="465.8" cy="686" r="2.75" fill="#fff"/>
<circle cx="470.0" cy="686" r="2.75" fill="#000"/>
<circle cx="473.75" cy="686" r="2.75" fill="#000"/>
<circle cx="476.6" cy="686" r="2.75" fill="#000"/>
<circle cx="480.8" cy="686" r="2.75" fill="#fff"/>
<circle cx="484.0" cy="686" r="2.75" fill="#000"/>
<circle cx="484.0" cy="686" r="2.75" fill="#fff"/>
<circle cx="491.6" cy="686" r="2.75" fill="#000"/>
<circle cx="493.9" cy="686" r="2.75" fill="#fff"/>
<circle cx="498.0" cy="686" r="2.75" fill="#000"/>
<circle cx="500.0" cy="686" r="2.75" fill="#fff"/>
<circle cx="504.0" cy="686" r="2.75" fill="#000"/>
<circle cx="507.8" cy="686" r="2.75" fill="#fff"/>
<circle cx="514.8" cy="686" r="2.75" fill="#fff"/>
<circle cx="520.0" cy="686" r="2.75" fill="#000"/>
<circle cx="520.0" cy="686" r="2.75" fill="#fff"/>
<circle cx="523.3" cy="686" r="2.75" fill="#fff"/>
<circle cx="525.6" cy="686" r="2.75" fill="#000"/>
<circle cx="527.5" cy="686" r="2.75" fill="#000"/>
<circle cx="535.5" cy="686" r="2.75" fill="#fff"/>
<circle cx="539.7" cy="686" r="2.75" fill="#fff"/>
<circle cx="543.4" cy="686" r="2.75" fill="#000"/>
<circle cx="545.3" cy="686" r="2.75" fill="#000"/>
<circle cx="550.9" cy="686" r="2.75" fill="#000"/>
<circle cx="557.5" cy="686" r="2.75" fill="#fff"/>
<circle cx="561.0" cy="686" r="2.75" fill="#fff"/>
<circle cx="564.0" cy="686" r="2.75" fill="#fff"/>
<circle cx="568.0" cy="686" r="2.75" fill="#000"/>
<circle cx="570.6" cy="686" r="2.75" fill="#000"/>
<circle cx="575.3" cy="686" r="2.75" fill="#fff"/>
<circle cx="579.1" cy="686" r="2.75" fill="#fff"/>
<circle cx="582.3" cy="686" r="2.75" fill="#fff"/>
<circle cx="585.6" cy="686" r="2.75" fill="#000"/>
<circle cx="588.0" cy="686" r="2.75" fill="#000"/>
<circle cx="592.5" cy="686" r="2.75" fill="#fff"/>
<circle cx="595.0" cy="686" r="2.75" fill="#fff"/>
<circle cx="598.1" cy="686" r="2.75" fill="#fff"/>
<circle cx="604.1" cy="686" r="2.75" fill="#000"/>
<circle cx="606.25" cy="686" r="2.75" fill="#000"/>
<circle cx="608.1" cy="686" r="2.75" fill="#000"/>
<circle cx="619.85" cy="686" r="2.75" fill="#fff"/>
<circle cx="622.0" cy="686" r="2.75" fill="#fff"/>
<circle cx="624.0" cy="686" r="2.75" fill="#fff"/>
<circle cx="635.0" cy="686" r="2.75" fill="#000"/>
<circle cx="636.25" cy="686" r="2.75" fill="#000"/>
<circle cx="638.1" cy="686" r="2.75" fill="#000"/>
<circle cx="649.75" cy="686" r="2.75" fill="#fff"/>
<circle cx="655.25" cy="686" r="2.75" fill="#fff"/>
<circle cx="652.1" cy="686" r="2.75" fill="#fff"/>
<circle cx="663.1" cy="686" r="2.75" fill="#000"/>
<circle cx="669.75" cy="686" r="2.75" fill="#000"/>
<circle cx="673.1" cy="686" r="2.75" fill="#000"/>
<circle cx="680.6" cy="686" r="2.75" fill="#fff"/>
<circle cx="683.75" cy="686" r="2.75" fill="#fff"/>
<circle cx="685.25" cy="686" r="2.75" fill="#fff"/>
<circle cx="697.5" cy="686" r="2.75" fill="#000"/>
<circle cx="696.9" cy="686" r="2.75" fill="#000"/>
<circle cx="700.0" cy="686" r="2.75" fill="#000"/>
<circle cx="707.5" cy="686" r="2.75" fill="#fff"/>
<circle cx="710.6" cy="686" r="2.75" fill="#fff"/>
<circle cx="714.4" cy="686" r="2.75" fill="#fff"/>
<circle cx="724.75" cy="686" r="2.75" fill="#000"/>
<circle cx="730.0" cy="686" r="2.75" fill="#000"/>
<circle cx="736.8" cy="686" r="2.75" fill="#fff"/>
<circle cx="739.4" cy="686" r="2.75" fill="#fff"/>
<circle cx="742.5" cy="686" r="2.75" fill="#fff"/>
<circle cx="747.25" cy="686" r="2.75" fill="#000"/>
<circle cx="755.5" cy="686" r="2.75" fill="#fff"/>
<circle cx="757.0" cy="686" r="2.75" fill="#fff"/>
<circle cx="760.0" cy="686" r="2.75" fill="#fff"/>
<circle cx="766.0" cy="686" r="2.75" fill="#000"/>
<circle cx="771.25" cy="686" r="2.75" fill="#000"/>
<circle cx="773.5" cy="686" r="2.75" fill="#000"/>
<circle cx="777.25" cy="686" r="2.75" fill="#000"/>
<circle cx="784.75" cy="686" r="2.75" fill="#fff"/>
<circle cx="787.0" cy="686" r="2.75" fill="#fff"/>
<circle cx="789.25" cy="686" r="2.75" fill="#fff"/>
<circle cx="792.25" cy="686" r="2.75" fill="#000"/>
<circle cx="802.0" cy="686" r="2.75" fill="#000"/>
<circle cx="811.3" cy="686" r="2.75" fill="#fff"/>
<circle cx="814.75" cy="686" r="2.75" fill="#fff"/>
<circle cx="832.5" cy="686" r="2.75" fill="#000"/>
<circle cx="834.75" cy="686" r="2.75" fill="#000"/>
<circle cx="843.95" cy="686" r="2.75" fill="#fff"/>
<circle cx="846.2" cy="686" r="2.75" fill="#fff"/>
<circle cx="853.7" cy="686" r="2.75" fill="#000"/>
<circle cx="857.3" cy="686" r="2.75" fill="#000"/>
<circle cx="869.75" cy="686" r="2.75" fill="#fff"/>
<circle cx="876.2" cy="686" r="2.75" fill="#fff"/>
<circle cx="873.2" cy="686" r="2.75" fill="#fff"/>
<circle cx="885.75" cy="686" r="2.75" fill="#000"/>
<circle cx="891.75" cy="686" r="2.75" fill="#000"/>
<circle cx="897.0" cy="686" r="2.75" fill="#fff"/>
<circle cx="900.0" cy="686" r="2.75" fill="#fff"/>
<circle cx="911.25" cy="686" r="2.75" fill="#000"/>
<circle cx="909.0" cy="686" r="2.75" fill="#000"/>
<circle cx="917.25" cy="686" r="2.75" fill="#fff"/>
<circle cx="918.0" cy="686" r="2.75" fill="#fff"/>
<circle cx="921.75" cy="686" r="2.75" fill="#fff"/>
<circle cx="927.75" cy="686" r="2.75" fill="#000"/>
<circle cx="933.75" cy="686" r="2.75" fill="#fff"/>
<circle cx="934.5" cy="686" r="2.75" fill="#000"/>
<circle cx="939.0" cy="686" r="2.75" fill="#000"/>
<circle cx="942.0" cy="686" r="2.75" fill="#fff"/>
<circle cx="952.5" cy="686" r="2.75" fill="#000"/>
<circle cx="956.25" cy="686" r="2.75" fill="#fff"/>
<circle cx="960.5" cy="686" r="2.75" fill="#000"/>
<circle cx="963.4" cy="686" r="2.75" fill="#fff"/>
<circle cx="966.4" cy="686" r="2.75" fill="#000"/>
<circle cx="969.0" cy="686" r="2.75" fill="#fff"/>
<circle cx="971.25" cy="686" r="2.75" fill="#000"/>
<circle cx="974.0" cy="686" r="2.75" fill="#fff"/>
<circle cx="977.1" cy="686" r="2.75" fill="#000"/>
<circle cx="986.0" cy="686" r="2.75" fill="#fff"/>
<circle cx="992.75" cy="686" r="2.75" fill="#fff"/>
<circle cx="994.5" cy="686" r="2.75" fill="#fff"/>
<circle cx="1005.75" cy="686" r="2.75" fill="#000"/>
<circle cx="1009.5" cy="686" r="2.75" fill="#000"/>
<circle cx="1011.75" cy="686" r="2.75" fill="#000"/>
<circle cx="1014.75" cy="686" r="2.75" fill="#000"/>
<circle cx="1022.75" cy="686" r="2.75" fill="#fff"/>
<circle cx="1025.5" cy="686" r="2.75" fill="#fff"/>
<circle cx="1040.5" cy="686" r="2.75" fill="#000"/>
<circle cx="1038.0" cy="686" r="2.75" fill="#000"/>
<circle cx="1043.25" cy="686" r="2.75" fill="#000"/>
<circle cx="1056.0" cy="686" r="2.75" fill="#fff"/>
<circle cx="1060.2" cy="686" r="2.75" fill="#fff"/>
<circle cx="1065.75" cy="686" r="2.75" fill="#fff"/>
<circle cx="1071.25" cy="686" r="2.75" fill="#000"/>
<circle cx="1076.5" cy="686" r="2.75" fill="#000"/>
<circle cx="1079.5" cy="686" r="2.75" fill="#fff"/>
<circle cx="1080.7" cy="686" r="2.75" fill="#fff"/>
<circle cx="1082.3" cy="686" r="2.75" fill="#fff"/>
<circle cx="1088.5" cy="686" r="2.75" fill="#000"/>
<circle cx="1091.5" cy="686" r="2.75" fill="#000"/>
<circle cx="1095.25" cy="686" r="2.75" fill="#fff"/>
<circle cx="1098.5" cy="686" r="2.75" fill="#fff"/>
<circle cx="1102.75" cy="686" r="2.75" fill="#fff"/>
<circle cx="1105.0" cy="686" r="2.75" fill="#000"/>
<circle cx="1110.25" cy="686" r="2.75" fill="#fff"/>
<circle cx="1117.75" cy="686" r="2.75" fill="#000"/>
<circle cx="1122.25" cy="686" r="2.75" fill="#000"/>
<circle cx="1126.0" cy="686" r="2.75" fill="#000"/>
<circle cx="1132.5" cy="686" r="2.75" fill="#fff"/>
<circle cx="1135.0" cy="686" r="2.75" fill="#fff"/>
<circle cx="1138.75" cy="686" r="2.75" fill="#fff"/>
<circle cx="1143.25" cy="686" r="2.75" fill="#000"/>
<circle cx="1147.0" cy="686" r="2.75" fill="#000"/>
<circle cx="1157.2" cy="686" r="2.75" fill="#fff"/>
<circle cx="1158.7" cy="686" r="2.75" fill="#fff"/>
<circle cx="1167.7" cy="686" r="2.75" fill="#000"/>
<circle cx="1171.0" cy="686" r="2.75" fill="#000"/>
<circle cx="1173.9" cy="686" r="2.75" fill="#000"/>
<circle cx="1180.0" cy="686" r="2.75" fill="#fff"/>
<circle cx="1185.7" cy="686" r="2.75" fill="#000"/>
<circle cx="1188.5" cy="686" r="2.75" fill="#000"/>
<circle cx="1196.4" cy="686" r="2.75" fill="#fff"/>
<circle cx="1200.3" cy="686" r="2.75" fill="#000"/>
<circle cx="1203.1" cy="686" r="2.75" fill="#fff"/>
<circle cx="1205.4" cy="686" r="2.75" fill="#000"/>
</g>
<g font-size="13.5" fill="#000" text-anchor="middle" stroke="#000" stroke-width="0.3">
<text transform="translate(153.85 657.6) rotate(-90)">G135</text>
<text transform="translate(171.45 657.6) rotate(-90)">H2O2</text>
<text transform="translate(188.35 657.6) rotate(-90)">Oxctl</text>
<text transform="translate(210.75 657.6) rotate(-90)">dia15</text>
<text transform="translate(238.15 657.6) rotate(-90)">dia5</text>
<text transform="translate(267.85 657.6) rotate(-90)">C30</text>
<text transform="translate(297.05 657.6) rotate(-90)">LPh</text>
<text transform="translate(314.25 657.6) rotate(-90)">aero</text>
<text transform="translate(344.25 657.6) rotate(-90)">ferm</text>
<text transform="translate(365.95 657.6) rotate(-90)">M9−tran</text>
<text transform="translate(383.15 657.6) rotate(-90)">MG+120</text>
<text transform="translate(395.05 657.6) rotate(-90)">MG+60</text>
<text transform="translate(400.25 657.6) rotate(-90)">MG+25</text>
<text transform="translate(405.45 657.6) rotate(-90)">MG+10</text>
<text transform="translate(410.65 657.6) rotate(-90)">MG+t5</text>
<text transform="translate(415.85 657.6) rotate(-90)">MG+15</text>
<text transform="translate(421.05 657.6) rotate(-90)">MG+45</text>
<text transform="translate(426.25 657.6) rotate(-90)">MG+5</text>
<text transform="translate(431.45 657.6) rotate(-90)">MG+90</text>
<text transform="translate(442.25 657.6) rotate(-90)">MG−0.2</text>
<text transform="translate(445.75 657.6) rotate(-90)">MG−0.2</text>
<text transform="translate(454.35 657.6) rotate(-90)">Fru</text>
<text transform="translate(463.75 657.6) rotate(-90)">GM−0.2</text>
<text transform="translate(468.75 657.6) rotate(-90)">GM−0.2</text>
<text transform="translate(477.75 657.6) rotate(-90)">GM+5</text>
<text transform="translate(482.75 657.6) rotate(-90)">GM+15</text>
<text transform="translate(488.25 657.6) rotate(-90)">GM+25</text>
<text transform="translate(493.75 657.6) rotate(-90)">GM+45</text>
<text transform="translate(499.25 657.6) rotate(-90)">GM+60</text>
<text transform="translate(504.75 657.6) rotate(-90)">GM+90</text>
<text transform="translate(513.25 657.6) rotate(-90)">GM+150</text>
<text transform="translate(521.75 657.6) rotate(-90)">GM+60</text>
<text transform="translate(526.75 657.6) rotate(-90)">GM+45</text>
<text transform="translate(531.75 657.6) rotate(-90)">GM+25</text>
<text transform="translate(539.35 657.6) rotate(-90)">M9−exp</text>
<text transform="translate(562.45 657.6) rotate(-90)">Mal</text>
<text transform="translate(581.45 657.6) rotate(-90)">Glu</text>
<text transform="translate(598.65 657.6) rotate(-90)">BMM</text>
<text transform="translate(624.85 657.6) rotate(-90)">Etha</text>
<text transform="translate(653.35 657.6) rotate(-90)">Gly</text>
<text transform="translate(686.95 657.6) rotate(-90)">HiOs</text>
<text transform="translate(713.05 657.6) rotate(-90)">S2</text>
<text transform="translate(741.75 657.6) rotate(-90)">S4</text>
<text transform="translate(760.75 657.6) rotate(-90)">S5</text>
<text transform="translate(789.85 657.6) rotate(-90)">S7</text>
<text transform="translate(816.75 657.6) rotate(-90)">S6</text>
<text transform="translate(849.25 657.6) rotate(-90)">B36</text>
<text transform="translate(874.95 657.6) rotate(-90)">LoTm</text>
<text transform="translate(901.75 657.6) rotate(-90)">G/S</text>
<text transform="translate(923.25 657.6) rotate(-90)">SMMPr</text>
<text transform="translate(935.75 657.6) rotate(-90)">T−4.40H</text>
<text transform="translate(938.75 657.6) rotate(-90)">T−2.40H</text>
<text transform="translate(941.75 657.6) rotate(-90)">T−1.10H</text>
<text transform="translate(945.25 657.6) rotate(-90)">T0.0H</text>
<text transform="translate(962.25 657.6) rotate(-90)">T1.0H</text>
<text transform="translate(967.25 657.6) rotate(-90)">T2.0H</text>
<text transform="translate(972.25 657.6) rotate(-90)">T3.0H</text>
<text transform="translate(977.25 657.6) rotate(-90)">T4.0H</text>
<text transform="translate(991.25 657.6) rotate(-90)">M9−stat</text>
<text transform="translate(1028.25 657.6) rotate(-90)">Sw</text>
<text transform="translate(1061.35 657.6) rotate(-90)">LBGstat</text>
<text transform="translate(1085.95 657.6) rotate(-90)">M0t45</text>
<text transform="translate(1101.15 657.6) rotate(-90)">Lbtran</text>
<text transform="translate(1114.85 657.6) rotate(-90)">M40t45</text>
<text transform="translate(1137.25 657.6) rotate(-90)">M0t90</text>
<text transform="translate(1161.75 657.6) rotate(-90)">BI</text>
<text transform="translate(1188.15 657.6) rotate(-90)">M0t45</text>
<text transform="translate(1199.35 657.6) rotate(-90)">Lbexp</text>
<text transform="translate(1205.95 657.6) rotate(-90)">Lbexp</text>
<text transform="translate(143.35 714.5) rotate(-90)">G150</text>
<text transform="translate(159.45 714.5) rotate(-90)">G180</text>
<text transform="translate(179.05 714.5) rotate(-90)">Paraq</text>
<text transform="translate(197.65 714.5) rotate(-90)">LBGexp</text>
<text transform="translate(226.95 714.5) rotate(-90)">Diami</text>
<text transform="translate(255.05 714.5) rotate(-90)">C90</text>
<text transform="translate(282.05 714.5) rotate(-90)">Cold</text>
<text transform="translate(304.55 714.5) rotate(-90)">HPh</text>
<text transform="translate(331.75 714.5) rotate(-90)">nit</text>
<text transform="translate(360.95 714.5) rotate(-90)">GM+150</text>
<text transform="translate(375.25 714.5) rotate(-90)">MG+150</text>
<text transform="translate(391.35 714.5) rotate(-90)">MG+90</text>
<text transform="translate(396.55 714.5) rotate(-90)">MG+45</text>
<text transform="translate(401.75 714.5) rotate(-90)">MG+15</text>
<text transform="translate(406.95 714.5) rotate(-90)">MG+60</text>
<text transform="translate(412.15 714.5) rotate(-90)">MG+25</text>
<text transform="translate(417.35 714.5) rotate(-90)">MG+10</text>
<text transform="translate(422.55 714.5) rotate(-90)">MG+45</text>
<text transform="translate(427.75 714.5) rotate(-90)">MG+60</text>
<text transform="translate(432.95 714.5) rotate(-90)">MG+90</text>
<text transform="translate(437.75 714.5) rotate(-90)">MG−0.1</text>
<text transform="translate(444.25 714.5) rotate(-90)">MG−0.1</text>
<text transform="translate(451.75 714.5) rotate(-90)">LBK</text>
<text transform="translate(458.75 714.5) rotate(-90)">Glucon</text>
<text transform="translate(465.75 714.5) rotate(-90)">GM−0.1</text>
<text transform="translate(470.75 714.5) rotate(-90)">GM−0.1</text>
<text transform="translate(478.75 714.5) rotate(-90)">GM+5</text>
<text transform="translate(484.25 714.5) rotate(-90)">GM+10</text>
<text transform="translate(489.75 714.5) rotate(-90)">GM+15</text>
<text transform="translate(495.25 714.5) rotate(-90)">GM+25</text>
<text transform="translate(504.25 714.5) rotate(-90)">GM+120</text>
<text transform="translate(509.75 714.5) rotate(-90)">GM+120</text>
<text transform="translate(518.75 714.5) rotate(-90)">GM+90</text>
<text transform="translate(523.75 714.5) rotate(-90)">GM+45</text>
<text transform="translate(528.75 714.5) rotate(-90)">GM+15</text>
<text transform="translate(533.75 714.5) rotate(-90)">GM+5</text>
<text transform="translate(548.45 714.5) rotate(-90)">M/G</text>
<text transform="translate(575.25 714.5) rotate(-90)">Fru</text>
<text transform="translate(590.65 714.5) rotate(-90)">SMM</text>
<text transform="translate(609.35 714.5) rotate(-90)">Heat</text>
<text transform="translate(640.45 714.5) rotate(-90)">Salt</text>
<text transform="translate(667.75 714.5) rotate(-90)">HiTm</text>
<text transform="translate(700.55 714.5) rotate(-90)">S1</text>
<text transform="translate(730.45 714.5) rotate(-90)">S3</text>
<text transform="translate(752.75 714.5) rotate(-90)">S3</text>
<text transform="translate(770.75 714.5) rotate(-90)">S6</text>
<text transform="translate(797.55 714.5) rotate(-90)">S8</text>
<text transform="translate(837.45 714.5) rotate(-90)">BT</text>
<text transform="translate(857.95 714.5) rotate(-90)">B60</text>
<text transform="translate(888.95 714.5) rotate(-90)">Pyr</text>
<text transform="translate(913.35 714.5) rotate(-90)">Glucon</text>
<text transform="translate(932.75 714.5) rotate(-90)">T−5.40H</text>
<text transform="translate(936.25 714.5) rotate(-90)">T−3.40H</text>
<text transform="translate(939.75 714.5) rotate(-90)">T−1.40H</text>
<text transform="translate(943.25 714.5) rotate(-90)">T−0.40H</text>
<text transform="translate(957.75 714.5) rotate(-90)">T0.30H</text>
<text transform="translate(962.75 714.5) rotate(-90)">T1.30H</text>
<text transform="translate(967.75 714.5) rotate(-90)">T2.30H</text>
<text transform="translate(972.75 714.5) rotate(-90)">T3.30H</text>
<text transform="translate(981.75 714.5) rotate(-90)">T5.0H</text>
<text transform="translate(1010.85 714.5) rotate(-90)">BC</text>
<text transform="translate(1043.95 714.5) rotate(-90)">LPhT</text>
<text transform="translate(1076.95 714.5) rotate(-90)">LBGtran</text>
<text transform="translate(1091.95 714.5) rotate(-90)">M40t45</text>
<text transform="translate(1111.15 714.5) rotate(-90)">Mt0</text>
<text transform="translate(1123.75 714.5) rotate(-90)">M40t90</text>
<text transform="translate(1148.55 714.5) rotate(-90)">Lbstat</text>
<text transform="translate(1172.95 714.5) rotate(-90)">S0</text>
<text transform="translate(1190.95 714.5) rotate(-90)">dia0</text>
<text transform="translate(1205.05 714.5) rotate(-90)">Mt0</text>
<text transform="translate(1209.35 714.5) rotate(-90)">Mt0</text>
</g>
<g fill="#00ff00" font-size="26.8" stroke="#00ff00" stroke-width="0.35"><text x="886.3" y="465.3">clusters</text><text x="966.4" y="499.9">A54 size: 4</text><text x="966.4" y="531.9">B30 size: 14</text><text x="966.4" y="563.8">C18 size: 23</text></g>
<g fill="#00ff00"><circle cx="894.8" cy="490.5" r="2.15"/><circle cx="908.1" cy="490.5" r="2.15"/><circle cx="921.4" cy="490.5" r="2.15"/><circle cx="934.7" cy="490.5" r="2.15"/></g>
<path d="M895 522.5 H904.7 M921.5 522.5 H931.3" stroke="#00ff00" stroke-width="4.5" stroke-linecap="round" fill="none"/>
<path d="M895 554.5 H942.7" stroke="#00ff00" stroke-width="4.5" stroke-linecap="round" fill="none"/>
</svg></body></html>
